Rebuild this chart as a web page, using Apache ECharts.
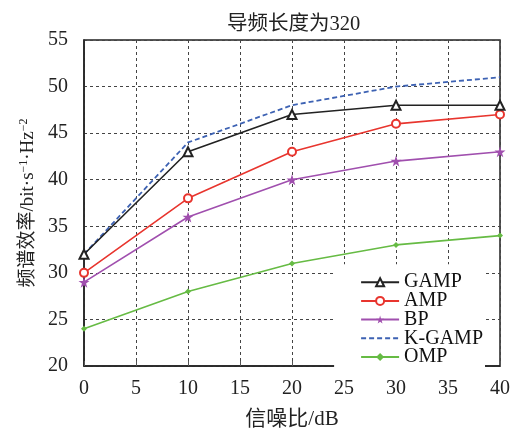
<!DOCTYPE html>
<html><head><meta charset="utf-8">
<script src="https://cdn.jsdelivr.net/npm/echarts@6/dist/echarts.min.js"></script>
<style>html,body{margin:0;padding:0;background:#fff}#c{width:518px;height:435px}</style>
</head><body><div id="c"></div>
<script>
const snr = [0, 10, 20, 30, 40];
const gamp = [32, 43, 47, 48, 48];
const amp = [30, 38, 43, 46, 47];
const bp = [29, 36, 40, 42, 43];
const kgamp = [32, 44, 48, 50, 51];
const omp = [24, 28, 31, 33, 34];
const seriesNames = ['GAMP', 'AMP', 'BP', 'K-GAMP', 'OMP'];
const titleText = '导频长度为320';
const xName = '信噪比/dB';

const FONT = '"Liberation Serif", "Noto Sans CJK SC", serif';
const pairs = arr => snr.map((x, i) => [x, arr[i]]);
const star = 'path://M50,0 L61,35 L98,35 L68,57 L79,91 L50,70 L21,91 L32,57 L2,35 L39,35 Z';

const chart = echarts.init(document.getElementById('c'));
chart.setOption({
  animation: false,
  title: { text: titleText, left: 222, top: 9, textStyle: { fontFamily: FONT, fontSize: 20.5, fontWeight: 'normal', color: '#222' } },
  grid: { left: 84, right: 18, top: 40, bottom: 68, show: true, borderColor: '#222', borderWidth: 1.5, backgroundColor: 'transparent' },
  legend: {
    orient: 'vertical', right: 33, bottom: 68, itemWidth: 38, itemHeight: 10, itemGap: -1.3,
    backgroundColor: '#fff', padding: [8, 2, 0, 26],
    textStyle: { fontFamily: FONT, fontSize: 20, color: '#111' },
    data: seriesNames.map(n => n === 'K-GAMP' ? { name: n, itemStyle: { opacity: 0 } } : n)
  },
  xAxis: {
    type: 'value', min: 0, max: 40, interval: 5,
    name: xName, nameLocation: 'middle', nameGap: 43,
    nameTextStyle: { fontFamily: FONT, fontSize: 21, color: '#222' },
    axisLine: { show: true, lineStyle: { color: '#222', width: 1.5 } },
    axisTick: { show: true, inside: true, length: 5, lineStyle: { color: '#555' } },
    axisLabel: { fontFamily: FONT, fontSize: 20, color: '#222', margin: 13 },
    splitLine: { show: true, lineStyle: { color: '#444', type: [3, 3], width: 1 } }
  },
  yAxis: {
    type: 'value', min: 20, max: 55, interval: 5,
    name: '频谱效率/bit·s{sup|−1}·Hz{sup|−2}', nameLocation: 'middle', nameGap: 46, nameRotate: 90,
    nameTextStyle: { fontFamily: FONT, fontSize: 19, color: '#222', rich: { sup: { fontFamily: FONT, fontSize: 12, color: '#222', verticalAlign: 'top', padding: [0, 0, 8, 0] } } },
    axisLine: { show: true, lineStyle: { color: '#222', width: 1.5 } },
    axisTick: { show: false },
    axisLabel: { fontFamily: FONT, fontSize: 20, color: '#222', margin: 16 },
    splitLine: { show: true, lineStyle: { color: '#444', type: [3, 3], width: 1 } }
  },
  series: [
    { name: seriesNames[0], type: 'line', data: pairs(gamp), symbol: 'emptyTriangle', symbolSize: 9, color: '#222', lineStyle: { width: 1.6 }, z: 5 },
    { name: seriesNames[1], type: 'line', data: pairs(amp), symbol: 'emptyCircle', symbolSize: 8, color: '#e8352e', lineStyle: { width: 1.6 } },
    { name: seriesNames[2], type: 'line', data: pairs(bp), symbol: star, symbolSize: 11, color: '#a04fae', lineStyle: { width: 1.6 } },
    { name: seriesNames[3], type: 'line', data: pairs(kgamp), symbol: 'none', color: '#3d62b3', lineStyle: { width: 1.8, type: [5, 3] } },
    { name: seriesNames[4], type: 'line', data: pairs(omp), symbol: 'diamond', symbolSize: 6, color: '#66bb44', lineStyle: { width: 1.6 } }
  ]
});
</script></body></html>
